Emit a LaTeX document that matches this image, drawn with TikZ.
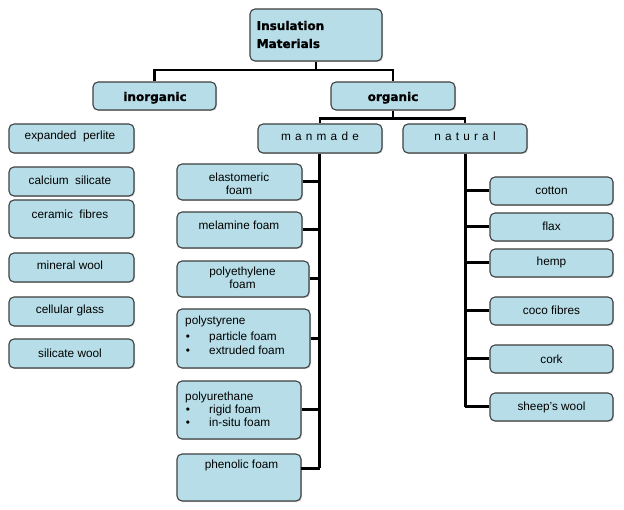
\documentclass[tikz,border=0pt]{standalone}
\usepackage{fontspec}
\setmainfont{Liberation Sans}
\newfontfamily\hdfont{DejaVu Sans}[BoldFeatures={FakeBold=1.2}]
\usetikzlibrary{fit,shadows}
\definecolor{boxfill}{HTML}{B7DEE8}
\definecolor{boxline}{HTML}{404040}
\newcommand\ls{\hspace{4.2pt}}
\newcommand\mkbox[5]{\node[box, fit={(#2,#3)(#4,#5)}] (#1) {};}
\tikzset{
  box/.style={draw=boxline, line width=1.1pt, fill=boxfill, rounded corners=5pt, inner sep=0pt,
    drop shadow={shadow xshift=1pt, shadow yshift=-1pt, opacity=0.35, fill=gray}},
  lbl/.style={inner sep=0pt, font=\fontsize{11.8}{13}\selectfont, text=black, anchor=base},
  hd/.style={inner sep=0pt, font=\hdfont\bfseries\fontsize{12}{18}\selectfont, text=black, anchor=base},
  conn/.style={line width=2.2pt, black},
  trunk/.style={line width=3pt, black}
}
\begin{document}
\begin{tikzpicture}[x=1pt,y=-1pt]
\useasboundingbox (0,0) rectangle (624,510);
% boxes
\mkbox{top}{250}{9}{382}{61}
\mkbox{inorg}{93}{82}{216}{110}
\mkbox{org}{331}{82}{455}{110}
\mkbox{mm}{258}{124}{382}{153}
\mkbox{nat}{403}{124}{527}{153}
% inorganic column
\mkbox{i1}{9}{124}{134}{153}
\mkbox{i2}{9}{167}{134}{196}
\mkbox{i3}{9}{200}{134}{238}
\mkbox{i4}{9}{253}{134}{282}
\mkbox{i5}{9}{297}{134}{326}
\mkbox{i6}{9}{339}{134}{368}
% manmade column
\mkbox{m1}{177}{164}{302}{200}
\mkbox{m2}{177}{212}{302}{248}
\mkbox{m3}{177}{261}{309}{297}
\mkbox{m4}{177}{309}{310}{368}
\mkbox{m5}{177}{381}{301}{439}
\mkbox{m6}{177}{454}{301}{501}
% natural column
\mkbox{n1}{490}{177}{613}{205}
\mkbox{n2}{490}{213}{613}{241}
\mkbox{n3}{490}{249}{613}{277}
\mkbox{n4}{490}{297}{613}{325}
\mkbox{n5}{490}{345}{613}{373}
\mkbox{n6}{490}{393}{613}{421}
% connectors
\coordinate (j1) at (316,70);
\draw[conn] (top.south) -- (j1);
\draw[conn] (inorg.north) |- (j1) -| (org.north);
\coordinate (j2) at (393,118.5);
\draw[conn] (org.south) -- (j2);
\draw[conn] (mm.north) |- (j2) -| (nat.north);
\coordinate (mmend) at (319.5,468);
\draw[trunk] (mm.south -| mmend) -- (mmend);
\foreach \b in {m1,m2,m3,m4,m5} \draw[trunk] (\b.east) -- (\b.east -| mmend);
\coordinate (m6stub) at (301,468);
\draw[trunk] (m6stub) -- (mmend);
\coordinate (natend) at (465,407);
\draw[trunk] (nat.south) -- (natend);
\foreach \b in {n1,n2,n3,n4,n5,n6} \draw[trunk] (\b.west) -- (\b.west -| natend);
% texts
\node[hd, anchor=base west] (tt1) at (256.5,30) {Insulation};
\node[hd, anchor=base west] (tt2) at (256.5,48) {Materials};
\node[hd] (tinorg) at (155,101) {inorganic};
\node[hd] (torg) at (393,101) {organic};
\node[lbl] (tmm) at (320,140.5) {m\ls a\ls n\ls m\ls a\ls d\ls e};
\node[lbl] (tnat) at (465,140.5) {n\ls a\ls t\ls u\ls r\ls a\ls l};
\node[lbl] (ti1) at (70,139.5) {expanded\ \ perlite};
\node[lbl] (ti2) at (70,185) {calcium\ \ silicate};
\node[lbl] (ti3) at (70,219) {ceramic\ \ fibres};
\node[lbl] (ti4) at (70,270) {mineral wool};
\node[lbl] (ti5) at (70,313.5) {cellular glass};
\node[lbl] (ti6) at (70,358) {silicate wool};
\node[lbl] (tm1a) at (239,181.5) {elastomeric};
\node[lbl] (tm1b) at (239,194.5) {foam};
\node[lbl] (tm2) at (239,229.5) {melamine foam};
\node[lbl] (tm3a) at (242.5,276) {polyethylene};
\node[lbl] (tm3b) at (242.5,288.5) {foam};
\node[lbl, anchor=base west] (tm4a) at (185,325) {polystyrene};
\node[lbl] (tm4b) at (188,340.5) {\textbullet};
\node[lbl, anchor=base west] (tm4c) at (209,340.5) {particle foam};
\node[lbl] (tm4d) at (188,355) {\textbullet};
\node[lbl, anchor=base west] (tm4e) at (209,355) {extruded foam};
\node[lbl, anchor=base west] (tm5a) at (185,400.5) {polyurethane};
\node[lbl] (tm5b) at (188,413.5) {\textbullet};
\node[lbl, anchor=base west] (tm5c) at (209,413.5) {rigid foam};
\node[lbl] (tm5d) at (188,427) {\textbullet};
\node[lbl, anchor=base west] (tm5e) at (209,427) {in-situ foam};
\node[lbl] (tm6) at (241.5,468.5) {phenolic foam};
\node[lbl] (tn1) at (551.5,195) {cotton};
\node[lbl] (tn2) at (551.5,231) {flax};
\node[lbl] (tn3) at (551.5,265.5) {hemp};
\node[lbl] (tn4) at (551.5,315) {coco fibres};
\node[lbl] (tn5) at (551.5,364) {cork};
\node[lbl] (tn6) at (551.5,411) {sheep's wool};
\end{tikzpicture}
\end{document}
